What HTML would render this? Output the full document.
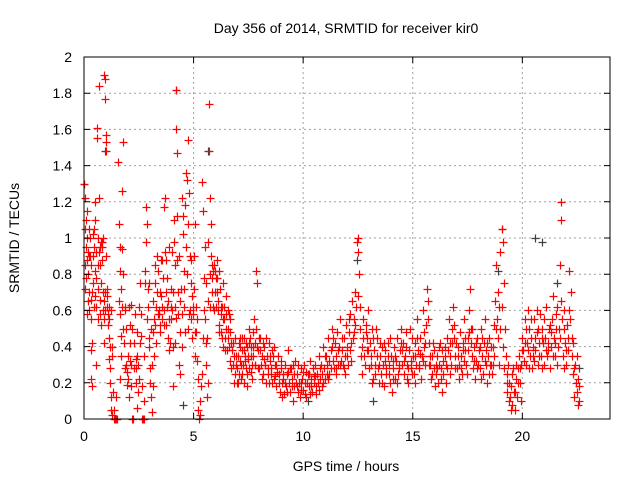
<!DOCTYPE html>
<html><head><meta charset="utf-8"><style>
body{margin:0;background:#fff;}
svg{display:block;font-family:"Liberation Sans",sans-serif;}
</style></head><body>
<svg id="chart" width="640" height="480" viewBox="0 0 640 480">
<rect width="640" height="480" fill="#fff"/>
<text x="346" y="33" font-size="14" text-anchor="middle" fill="#000">Day 356 of 2014, SRMTID for receiver kir0</text>
<text transform="translate(19,238) rotate(-90)" font-size="14" text-anchor="middle" fill="#000">SRMTID / TECUs</text>
<text x="346" y="471" font-size="14" text-anchor="middle" fill="#000">GPS time / hours</text>
<g id="grid"></g><g id="grey"></g><g id="red"></g><g id="axes"></g>
</svg>
<script>
const xTicks=[0,5,10,15,20];
const yTicks=[0,0.2,0.4,0.6,0.8,1,1.2,1.4,1.6,1.8,2];
const yTickLabels=["0","0.2","0.4","0.6","0.8","1","1.2","1.4","1.6","1.8","2"];
const greyPts=[0.0,1.3, 0.95,1.48, 4.2,1.82, 5.65,1.48, 20.6,1.0, 19.05,1.05, 12.45,0.88, 18.9,0.82, 4.5,0.08, 10.2,0.1, 22.6,0.28, 21.6,0.75, 20.9,0.98, 13.2,0.1];
const redPts=[0.02,1.30,0.05,1.22,0.08,1.10,0.03,0.72,0.1,0.95,0.12,0.88,0.15,1.0,0.18,0.65,0.2,0.8,0.22,1.05,0.25,0.6,0.28,0.9,0.3,0.55,0.3,0.38,0.32,0.22,0.35,0.18,0.38,0.42,0.4,1.02,0.42,0.75,0.45,0.62,0.48,1.2,0.5,1.1,0.52,0.68,0.55,0.3,0.58,1.61,0.6,1.55,0.62,0.85,0.65,0.72,0.68,1.22,0.7,1.84,0.72,0.95,0.75,0.66,0.78,0.52,0.8,0.98,0.82,0.88,0.85,0.6,0.88,1.0,0.9,0.42,0.92,1.9,0.94,1.88,0.95,1.77,0.97,0.7,1.0,1.57,1.02,1.53,1.0,1.48,1.05,0.62,1.1,0.52,1.12,0.45,1.15,0.33,1.18,0.28,1.2,0.2,1.22,0.12,1.25,0.05,1.3,0.02,1.35,0.0,1.4,0.0,1.45,0.0,1.5,0.0,1.55,1.42,1.6,1.08,1.62,0.82,1.65,0.58,1.68,0.46,1.7,0.72,1.72,0.94,1.75,1.26,1.78,1.53,1.8,0.8,1.85,0.62,1.9,0.3,1.95,0.19,2.0,0.35,2.05,0.12,2.1,0.52,2.12,0.42,2.15,0.63,2.2,0.0,2.25,0.0,2.3,0.28,2.35,0.33,2.4,0.48,2.42,0.06,2.45,0.15,2.5,0.22,2.55,0.75,2.6,0.58,2.65,0.0,2.7,0.0,2.75,0.0,2.8,0.82,2.85,1.17,2.88,1.08,2.9,0.72,2.95,0.45,3.0,0.28,3.05,0.12,3.1,0.04,3.15,0.18,3.2,0.35,3.25,0.52,3.3,0.62,3.35,0.9,3.4,0.58,3.45,0.48,3.5,0.68,3.55,0.55,3.6,0.78,3.65,1.17,3.7,1.22,3.75,0.88,3.8,0.62,3.85,0.45,3.9,0.38,3.95,0.72,4.0,0.6,4.05,0.18,4.1,1.1,4.12,0.98,4.15,0.42,4.2,1.82,4.22,1.6,4.25,1.47,4.3,0.7,4.35,0.3,4.4,0.25,4.45,1.22,4.5,1.12,4.55,0.82,4.6,0.48,4.65,1.36,4.7,1.32,4.75,1.54,4.8,1.25,4.85,0.6,4.9,0.88,4.95,0.45,5.0,0.72,5.05,1.08,5.1,0.62,5.15,0.32,5.2,0.05,5.25,0.0,5.3,0.02,5.35,0.18,5.4,1.31,5.45,1.15,5.5,0.95,5.55,0.42,5.6,0.12,5.65,0.2,5.7,1.48,5.72,1.74,5.75,1.22,5.8,1.08,5.85,0.85,5.9,0.82,5.95,0.6,6.0,0.78,6.05,0.88,6.1,0.65,6.15,0.52,6.2,0.72,6.25,0.48,6.3,0.62,6.35,0.4,6.4,0.55,6.45,0.38,6.5,0.68,6.55,0.45,6.6,0.58,6.65,0.48,6.7,0.42,6.75,0.38,6.8,0.3,6.85,0.2,6.9,0.25,6.95,0.35,7.0,0.28,7.05,0.42,7.1,0.32,7.15,0.22,7.2,0.38,7.25,0.3,7.3,0.45,7.35,0.35,7.4,0.28,7.45,0.4,7.5,0.33,7.55,0.5,7.6,0.4,7.65,0.3,7.7,0.35,7.75,0.55,7.8,0.42,7.85,0.82,7.9,0.75,7.95,0.38,8.0,0.28,8.05,0.45,8.1,0.35,8.15,0.25,8.2,0.4,8.25,0.3,8.3,0.2,8.35,0.35,8.4,0.28,8.45,0.42,8.5,0.32,8.55,0.25,8.6,0.38,8.65,0.22,8.7,0.3,8.75,0.18,8.8,0.26,8.85,0.35,8.9,0.2,8.95,0.15,9.0,0.28,9.05,0.12,9.1,0.22,9.15,0.3,9.2,0.18,9.25,0.25,9.3,0.38,9.35,0.2,9.4,0.15,9.45,0.28,9.5,0.22,9.55,0.1,9.6,0.18,9.65,0.32,9.7,0.25,9.75,0.15,9.8,0.2,9.85,0.12,9.9,0.28,9.95,0.22,10.0,0.16,10.05,0.3,10.1,0.2,10.15,0.12,10.2,0.25,10.25,0.18,10.3,0.32,10.35,0.22,10.4,0.15,10.45,0.28,10.5,0.2,10.55,0.3,10.6,0.18,10.65,0.25,10.7,0.35,10.75,0.22,10.8,0.3,10.85,0.18,10.9,0.4,10.95,0.28,11.0,0.22,11.05,0.35,11.1,0.3,11.15,0.45,11.2,0.25,11.25,0.38,11.3,0.5,11.35,0.32,11.4,0.28,11.45,0.42,11.5,0.35,11.55,0.48,11.6,0.3,11.65,0.4,11.7,0.55,11.75,0.38,11.8,0.3,11.85,0.45,11.9,0.35,11.95,0.52,12.0,0.4,12.05,0.3,12.1,0.48,12.15,0.58,12.2,0.42,12.25,0.65,12.3,0.55,12.35,0.7,12.4,0.62,12.45,0.98,12.5,1.0,12.52,0.92,12.55,0.8,12.6,0.5,12.65,0.35,12.7,0.25,12.75,0.45,12.8,0.3,12.85,0.52,12.9,0.38,12.95,0.6,13.0,0.28,13.05,0.42,13.1,0.35,13.15,0.5,13.2,0.22,13.25,0.38,13.3,0.3,13.35,0.45,13.4,0.28,13.45,0.2,13.5,0.35,13.55,0.25,13.6,0.4,13.65,0.3,13.7,0.18,13.75,0.32,13.8,0.25,13.85,0.42,13.9,0.3,13.95,0.2,14.0,0.35,14.05,0.15,14.1,0.28,14.15,0.4,14.2,0.22,14.25,0.32,14.3,0.45,14.35,0.28,14.4,0.38,14.45,0.5,14.5,0.3,14.55,0.42,14.6,0.25,14.65,0.35,14.7,0.48,14.75,0.3,14.8,0.2,14.85,0.38,14.9,0.28,14.95,0.45,15.0,0.35,15.05,0.25,15.1,0.42,15.15,0.3,15.2,0.55,15.25,0.38,15.3,0.28,15.35,0.45,15.4,0.35,15.45,0.6,15.5,0.4,15.55,0.3,15.6,0.52,15.65,0.72,15.7,0.65,15.75,0.42,15.8,0.3,15.85,0.22,15.9,0.35,15.95,0.28,16.0,0.18,16.05,0.25,16.1,0.35,16.15,0.2,16.2,0.3,16.25,0.42,16.3,0.28,16.35,0.15,16.4,0.25,16.45,0.35,16.5,0.3,16.55,0.45,16.6,0.38,16.65,0.55,16.7,0.42,16.75,0.3,16.8,0.5,16.85,0.62,16.9,0.45,16.95,0.35,17.0,0.28,17.05,0.4,17.1,0.3,17.15,0.48,17.2,0.35,17.25,0.25,17.3,0.42,17.35,0.55,17.4,0.38,17.45,0.3,17.5,0.45,17.55,0.6,17.6,0.72,17.65,0.5,17.7,0.35,17.75,0.28,17.8,0.4,17.85,0.22,17.9,0.32,17.95,0.45,18.0,0.38,18.05,0.28,18.1,0.5,18.15,0.35,18.2,0.25,18.25,0.42,18.3,0.55,18.35,0.3,18.4,0.2,18.45,0.35,18.5,0.45,18.55,0.3,18.6,0.25,18.65,0.4,18.7,0.52,18.75,0.65,18.8,0.85,18.85,0.55,18.9,0.45,18.95,0.62,19.0,0.92,19.05,1.05,19.1,0.98,19.15,0.75,19.2,0.5,19.25,0.35,19.3,0.25,19.35,0.3,19.4,0.2,19.45,0.12,19.5,0.18,19.55,0.08,19.6,0.15,19.65,0.05,19.7,0.22,19.75,0.12,19.8,0.28,19.85,0.35,19.9,0.2,19.95,0.3,20.0,0.45,20.05,0.38,20.1,0.55,20.15,0.3,20.2,0.42,20.25,0.6,20.3,0.5,20.35,0.35,20.4,0.45,20.45,0.28,20.5,0.4,20.55,0.55,20.6,0.38,20.65,0.48,20.7,0.3,20.75,0.42,20.8,0.58,20.85,0.35,20.9,0.5,20.95,0.42,21.0,0.3,21.05,0.45,21.1,0.62,21.15,0.38,21.2,0.5,21.25,0.28,21.3,0.4,21.35,0.55,21.4,0.68,21.45,0.45,21.5,0.35,21.55,0.5,21.6,0.62,21.65,0.4,21.7,0.85,21.75,1.2,21.78,1.1,21.8,0.55,21.85,0.35,21.9,0.6,21.95,0.42,22.0,0.3,22.05,0.52,22.1,0.38,22.15,0.82,22.2,0.7,22.25,0.45,22.3,0.25,22.35,0.12,22.4,0.3,22.45,0.2,22.5,0.35,22.55,0.22,22.6,0.1];
const redExtra=[0.06,0.85,0.14,0.58,0.24,0.9,0.36,0.7,0.46,0.95,0.56,0.78,0.66,0.55,0.76,0.98,0.86,0.7,0.96,0.6,1.06,0.72,1.16,0.62,1.26,0.4,1.66,0.22,1.76,0.5,1.86,0.28,2.06,0.62,2.16,0.3,2.36,0.2,2.56,0.42,2.76,0.35,2.96,0.75,3.06,0.5,3.16,0.65,3.26,0.85,3.36,0.58,3.46,0.7,3.56,0.88,3.66,0.6,3.76,0.52,3.86,0.95,3.96,0.55,4.06,0.7,4.16,0.62,4.26,0.88,4.36,0.65,4.46,0.58,4.56,0.72,4.66,0.95,4.76,0.5,4.86,0.75,4.96,0.62,5.06,0.48,5.16,0.55,5.46,0.6,5.56,0.75,5.66,0.65,5.76,0.8,5.86,0.7,5.96,0.82,6.06,0.7,6.16,0.82,6.26,0.58,6.36,0.75,6.46,0.5,6.56,0.6,6.66,0.55,7.02,0.2,7.12,0.45,7.22,0.25,7.32,0.38,7.42,0.18,7.52,0.42,7.62,0.26,7.72,0.48,7.82,0.3,8.02,0.38,8.12,0.22,8.22,0.33,8.32,0.45,8.42,0.2,8.52,0.28,8.62,0.35,8.72,0.24,9.02,0.2,9.12,0.14,9.32,0.26,9.52,0.3,9.72,0.18,9.92,0.16,10.12,0.26,10.32,0.14,10.52,0.24,10.72,0.16,10.92,0.2,11.12,0.22,11.32,0.4,11.52,0.28,11.72,0.32,11.92,0.25,12.12,0.38,12.32,0.48,12.72,0.55,12.92,0.45,13.12,0.2,13.32,0.5,13.52,0.42,13.72,0.38,13.92,0.25,14.12,0.32,14.32,0.25,14.52,0.38,14.72,0.22,14.92,0.32,15.12,0.2,15.32,0.36,15.52,0.48,15.72,0.3,15.92,0.42,16.12,0.28,16.32,0.38,16.52,0.2,16.72,0.25,16.92,0.28,17.12,0.22,17.32,0.32,17.52,0.38,17.72,0.5,17.92,0.28,18.12,0.22,18.32,0.38,18.52,0.3,18.72,0.35,18.92,0.3,19.12,0.4,19.32,0.15,19.52,0.25,19.72,0.3,19.92,0.1,20.12,0.42,20.32,0.28,20.52,0.32,20.72,0.5,20.92,0.28,21.12,0.35,21.32,0.48,21.52,0.58,21.72,0.45,21.92,0.28,22.12,0.6,22.32,0.42,22.52,0.08];
const redMore=[0.04,1.05,0.09,0.78,0.13,1.15,0.17,0.92,0.21,0.7,0.27,1.0,0.31,0.85,0.34,0.66,0.39,0.9,0.44,1.05,0.49,0.82,0.53,0.92,0.57,0.62,0.63,1.0,0.67,0.92,0.71,0.58,0.74,0.85,0.79,0.75,0.84,0.95,0.89,0.55,0.93,0.65,0.99,0.9,1.03,0.68,1.08,0.58,1.13,0.55,1.17,0.4,1.21,0.6,1.28,0.35,1.33,0.15,1.38,0.05,1.48,0.12,1.58,0.65,1.63,0.95,1.69,0.35,1.73,0.62,1.83,0.42,1.88,0.6,1.93,0.5,1.98,0.26,2.03,0.22,2.08,0.32,2.13,0.18,2.18,0.5,2.28,0.42,2.33,0.58,2.38,0.28,2.43,0.35,2.48,0.3,2.53,0.62,2.58,0.46,2.63,0.18,2.73,0.1,2.78,0.75,2.83,0.98,2.87,0.55,2.93,0.62,2.98,0.4,3.03,0.2,3.08,0.3,3.13,0.48,3.18,0.55,3.23,0.75,3.28,0.42,3.33,0.7,3.38,0.82,3.43,0.6,3.48,0.52,3.53,0.88,3.58,0.62,3.63,0.52,3.68,0.92,3.73,0.7,3.78,0.78,3.83,0.65,3.88,0.55,3.93,0.42,3.98,0.62,4.03,0.92,4.08,0.4,4.13,0.85,4.18,0.56,4.23,1.12,4.28,0.58,4.33,0.9,4.38,0.48,4.43,0.72,4.48,0.4,4.53,1.02,4.58,0.62,4.63,1.18,4.68,0.8,4.73,1.08,4.78,0.58,4.83,0.9,4.88,0.55,4.93,0.68,4.98,0.58,5.03,0.9,5.08,0.35,5.13,0.48,5.18,0.22,5.28,0.1,5.38,0.25,5.43,0.45,5.48,0.78,5.53,0.55,5.58,0.3,5.63,0.45,5.68,0.98,5.73,0.62,5.78,0.9,5.83,0.78,5.88,0.62,5.93,0.85,5.98,0.7,6.03,0.62,6.08,0.78,6.13,0.6,6.18,0.48,6.23,0.62,6.28,0.45,6.33,0.55,6.38,0.62,6.43,0.45,6.48,0.58,6.53,0.38,6.58,0.5,6.63,0.4,6.68,0.32,6.73,0.28,6.78,0.42,6.83,0.35,6.88,0.45,6.93,0.3,6.98,0.2,7.03,0.35,7.08,0.25,7.13,0.4,7.18,0.3,7.23,0.45,7.28,0.2,7.33,0.32,7.38,0.42,7.43,0.25,7.48,0.35,7.53,0.28,7.58,0.45,7.63,0.35,7.68,0.22,7.73,0.4,7.78,0.3,7.83,0.5,7.88,0.4,7.93,0.28,7.98,0.45,8.08,0.3,8.18,0.42,8.28,0.3,8.38,0.25,8.48,0.35,8.58,0.2,8.68,0.4,8.78,0.3,8.88,0.25,8.98,0.32,9.08,0.25,9.18,0.2,9.28,0.15,9.38,0.28,9.48,0.18,9.58,0.25,9.68,0.2,9.78,0.3,9.88,0.2,9.98,0.26,10.08,0.14,10.18,0.2,10.28,0.25,10.38,0.18,10.48,0.24,10.58,0.14,10.68,0.2,10.78,0.28,10.88,0.25,10.98,0.35,11.08,0.25,11.18,0.32,11.28,0.28,11.38,0.45,11.48,0.25,11.58,0.38,11.68,0.3,11.78,0.45,11.88,0.28,11.98,0.35,12.08,0.55,12.18,0.32,12.28,0.45,12.38,0.52,12.48,0.68,12.58,0.62,12.68,0.4,12.78,0.35,12.88,0.48,12.98,0.38,13.08,0.3,13.18,0.45,13.28,0.25,13.38,0.35,13.48,0.3,13.58,0.2,13.68,0.42,13.78,0.28,13.88,0.35,13.98,0.45,14.08,0.22,14.18,0.35,14.28,0.2,14.38,0.3,14.48,0.42,14.58,0.32,14.68,0.4,14.78,0.28,14.88,0.5,14.98,0.25,15.08,0.35,15.18,0.45,15.28,0.3,15.38,0.22,15.48,0.32,15.58,0.42,15.68,0.55,15.78,0.35,15.88,0.25,15.98,0.38,16.08,0.3,16.18,0.4,16.28,0.22,16.38,0.32,16.48,0.4,16.58,0.28,16.68,0.35,16.78,0.42,16.88,0.52,16.98,0.42,17.08,0.35,17.18,0.28,17.28,0.38,17.38,0.45,17.48,0.25,17.58,0.48,17.68,0.42,17.78,0.32,17.88,0.42,17.98,0.3,18.08,0.4,18.18,0.45,18.28,0.32,18.38,0.42,18.48,0.25,18.58,0.4,18.68,0.3,18.78,0.5,18.88,0.7,18.98,0.5,19.08,0.62,19.18,0.28,19.28,0.2,19.38,0.1,19.48,0.05,19.58,0.28,19.68,0.15,19.78,0.2,19.88,0.28,19.98,0.38,20.08,0.32,20.18,0.5,20.28,0.38,20.38,0.55,20.48,0.35,20.58,0.45,20.68,0.6,20.78,0.35,20.88,0.45,20.98,0.55,21.08,0.38,21.18,0.42,21.28,0.52,21.38,0.35,21.48,0.42,21.58,0.3,21.68,0.5,21.78,0.65,21.88,0.5,21.98,0.38,22.08,0.45,22.18,0.55,22.28,0.35,22.38,0.28,22.48,0.15,22.58,0.18];
const X0=84,X1=610,Y0=419,Y1=57,XMAX=24,YMAX=2;
function sx(v){return X0+(X1-X0)*v/XMAX;}
function sy(v){return Y0-(Y0-Y1)*v/YMAX;}
const NS="http://www.w3.org/2000/svg";
function mk(tag,attrs,parent){const e=document.createElementNS(NS,tag);for(const k in attrs)e.setAttribute(k,attrs[k]);parent.appendChild(e);return e;}
const grid=document.getElementById('grid'),axes=document.getElementById('axes');
xTicks.forEach(t=>{
  if(t>0){const g=mk('line',{x1:sx(t),x2:sx(t),y1:Y0,y2:Y1,stroke:'#a0a0a0','stroke-dasharray':'2,3'},grid);
  
  }
  const tk=mk('path',{d:`M${sx(t)},${Y0}v-6M${sx(t)},${Y1}v6`,stroke:'#000'},axes);
  
  
  const l=mk('text',{x:sx(t),y:Y0+22,'font-size':14,'text-anchor':'middle',fill:'#000'},axes);l.textContent=String(t);
  
  
});
yTicks.forEach((t,i)=>{
  if(t>0&&t<YMAX){const g=mk('line',{x1:X0,x2:X1,y1:sy(t),y2:sy(t),stroke:'#a0a0a0','stroke-dasharray':'2,3'},grid);
  
  }
  const tk=mk('path',{d:`M${X0},${sy(t)}h6M${X1},${sy(t)}h-6`,stroke:'#000'},axes);
  
  
  const l=mk('text',{x:X0-12,y:sy(t)+5,'font-size':14,'text-anchor':'end',fill:'#000'},axes);l.textContent=yTickLabels[i];
  
  
});
const frame=mk('rect',{x:X0,y:Y1,width:X1-X0,height:Y0-Y1,fill:'none',stroke:'#000'},axes);


function drawPts(arr,gid,color,name){
  const g=document.getElementById(gid);
  for(let i=0;i<arr.length;i+=2){
    const x=Math.round(sx(arr[i]))+0.5,y=Math.round(sy(arr[i+1]))+0.5;
    const p=mk('path',{d:`M${x-4},${y}h8M${x},${y-4}v8`,stroke:color,'stroke-width':1.2},g);
    
    
  }
}
drawPts(greyPts,'grey','#404040','grey-point');
drawPts(redPts,'red','#ff0000','red-point');
drawPts(redExtra,'red','#ff0000','red-point');
drawPts(redMore,'red','#ff0000','red-point');
</script>
</body></html>
